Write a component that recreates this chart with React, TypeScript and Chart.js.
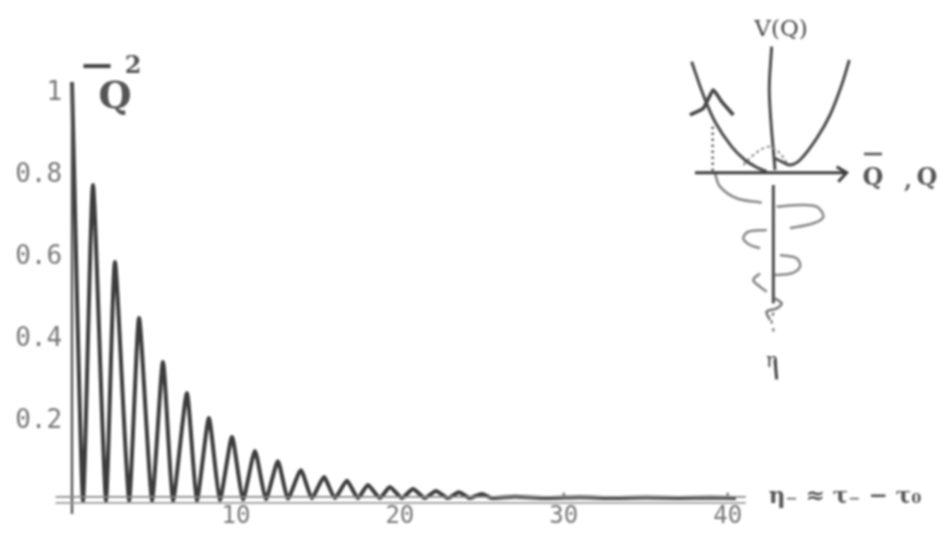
import React, { useEffect, useRef } from "react";
import { Chart, registerables } from "chart.js";

Chart.register(...registerables);

// main curve: maxima and minima of the decaying oscillation
const peakX = [0, 1.28, 2.62, 4.09, 5.55, 7.01, 8.35, 9.76, 11.16, 12.56, 13.96, 15.37, 16.77, 18.05, 19.39, 20.8, 22.2, 23.6, 25];
const peakY = [1.027, 0.776, 0.588, 0.451, 0.344, 0.268, 0.207, 0.161, 0.127, 0.102, 0.08, 0.063, 0.054, 0.044, 0.039, 0.034, 0.029, 0.026, 0.022];
const zeroX = [0.67, 2.07, 3.48, 4.88, 6.16, 7.62, 9.02, 10.43, 11.83, 13.17, 14.63, 16.04, 17.44, 18.78, 20.12, 21.52, 22.93, 24.27, 25.6];
const zeroY = [0.007, 0.007, 0.007, 0.007, 0.007, 0.007, 0.008, 0.009, 0.01, 0.011, 0.012, 0.012, 0.012, 0.012, 0.012, 0.012, 0.012, 0.012, 0.012];
const tailX = [27, 29, 31, 33, 35, 37, 39, 40.5];
const tailY = [0.015, 0.012, 0.014, 0.012, 0.013, 0.012, 0.013, 0.012];

const xTickValues = [10, 20, 30, 40];
const xTickLabels = ["10", "20", "30", "40"];
const yTickValues = [0.2, 0.4, 0.6, 0.8, 1];
const yTickLabels = ["0.2", "0.4", "0.6", "0.8", "1"];

const axisYLine: number[][] = [[0, -0.027], [0, 1.027]];
const baseUpper: number[][] = [[-1, 0.015], [41.1, 0.015]];
const baseLower: number[][] = [[-1, 0], [41.1, 0]];
const overbar: number[][] = [[0.7, 1.066], [2.35, 1.066]];
const tickMarkA: number[][] = [[30, 0.012], [30, 0.025]];
const tickMarkB: number[][] = [[40, 0.012], [40, 0.025]];

// inset sketch, in its own (Q, V) units
const wellLeft = [[-2.45, 3.33], [-2.1, 2.33], [-1.75, 1.53], [-1.25, 0.78], [-0.85, 0.38], [-0.5, 0.16], [-0.2, 0.03]];
const wellRight = [[0.05, 0.43], [0.25, 0.33], [0.5, 0.23], [0.8, 0.38], [1.3, 1.03], [1.7, 1.73], [2.05, 2.63], [2.28, 3.38]];
const hump = [[-0.9, 0.23], [-0.6, 0.53], [-0.15, 0.78], [0.15, 0.63], [0.45, 0.23]];
const vAxisUp = [[-0.05, 3.78], [-0.12, 2.38], [0.05, 0.08]];
const vAxisDown = [[0, -0.37], [0, -3.92]];
const tailDots = [[0, -4.2], [-0.05, -4.5], [0, -4.72], [0, -4.9]];
const qAxis = [[-2.35, 0], [2.15, 0]];
const qArrow = [[1.9, 0.18], [2.2, 0], [1.95, -0.27]];
const dropLine = [[-1.82, 1.38], [-1.82, 0]];
const smallPeak = [[-2.5, 1.73], [-2.1, 1.93], [-1.8, 2.48], [-1.55, 2.13], [-1.2, 1.73]];
const oscA = [[-1.75, -0.02], [-1.6, -0.42], [-1.1, -0.77], [-0.35, -0.9]];
const oscB = [[0.1, -1.02], [0.8, -0.97], [1.3, -1.02], [1.5, -1.32], [1.2, -1.52], [0.5, -1.67]];
const oscC = [[-0.2, -1.72], [-0.75, -1.77], [-0.9, -1.97], [-0.7, -2.17], [-0.4, -2.27]];
const oscD = [[0.2, -2.47], [0.7, -2.57], [0.8, -2.82], [0.55, -3.02], [0.05, -3.07]];
const oscE = [[-0.4, -3.02], [-0.6, -3.22], [-0.4, -3.42], [-0.2, -3.57]];
const oscF = [[0.05, -3.77], [0.25, -3.92], [0.1, -4.07], [-0.2, -4.17], [-0.1, -4.42]];
const etaStem = [[0.05, -5.6], [0.1, -6.2]];
const qOverbar = [[2.72, 0.56], [3.26, 0.56]];

const mono = "'DejaVu Sans Mono'";
const serif = "'DejaVu Serif'";

const mainCurve = () => {
  const pts: { x: number; y: number }[] = [];
  peakX.forEach((x, i) => {
    pts.push({ x, y: peakY[i] });
    pts.push({ x: zeroX[i], y: zeroY[i] });
  });
  tailX.forEach((x, i) => pts.push({ x, y: tailY[i] }));
  return pts;
};

const toPts = (a: number[][]) => a.map(([x, y]) => ({ x, y }));

const main = (data: number[][], color: string, width: number) => ({
  data: toPts(data), borderColor: color, borderWidth: width, pointRadius: 0, tension: 0, clip: false as const,
});
const inset = (data: number[][], color: string, width: number, extra: object = {}) => ({
  data: toPts(data), borderColor: color, borderWidth: width, pointRadius: 0, tension: 0.35,
  xAxisID: "qx", yAxisID: "vy", clip: false as const, ...extra,
});

const noPadding = (s: any) => {
  s.paddingTop = 0;
  s.paddingBottom = 0;
  s.paddingLeft = 0;
  s.paddingRight = 0;
};

const labels = {
  id: "labels",
  afterDraw(chart: Chart) {
    const c = chart.ctx;
    const put = (t: string, x: number, y: number, font: string, color = "#444") => {
      c.save();
      c.font = font;
      c.fillStyle = color;
      c.textAlign = "center";
      c.textBaseline = "middle";
      c.fillText(t, x, y);
      c.restore();
    };
    put("Q", 115, 98, `bold 38px ${serif}`, "#555");
    put("2", 133, 67, `bold 24px ${serif}`, "#555");
    put("V(Q)", 781, 30, `23px ${serif}`);
    put("Q", 873, 179, `bold 24px ${serif}`, "#555");
    put(",", 908, 182, `bold 22px ${serif}`, "#555");
    put("Q", 927, 179, `bold 24px ${serif}`, "#555");
    put("η", 772, 362, `20px ${serif}`);
    put("η₋ ≈ τ₋ − τ₀", 845, 497, `bold 23px ${serif}`, "#555");
  },
};

export default function App() {
  const ref = useRef<HTMLCanvasElement>(null);
  useEffect(() => {
    const chart = new Chart(ref.current as HTMLCanvasElement, {
      type: "line",
      data: {
        datasets: [
          main(baseUpper, "#888", 1.8),
          main(baseLower, "#999", 1.8),
          main(axisYLine, "#555", 2.4),
          main(overbar, "#444", 4),
          main(tickMarkA, "#666", 2),
          main(tickMarkB, "#666", 2),
          { data: mainCurve(), borderColor: "#3c3c3c", borderWidth: 4, pointRadius: 0, tension: 0.18, clip: false as const },
          inset(wellLeft, "#4a4a4a", 3),
          inset(wellRight, "#4a4a4a", 3),
          inset(hump, "#888", 2, { borderDash: [3, 3] }),
          inset(vAxisUp, "#4a4a4a", 3),
          inset(vAxisDown, "#4a4a4a", 3),
          inset(tailDots, "#777", 2.4, { borderDash: [3, 5] }),
          inset(etaStem, "#444", 3, { tension: 0 }),
          inset(qOverbar, "#555", 2.6, { tension: 0 }),
          inset(qAxis, "#3c3c3c", 3, { tension: 0 }),
          inset(qArrow, "#3c3c3c", 3, { tension: 0 }),
          inset(dropLine, "#444", 2.6, { borderDash: [2, 4], tension: 0 }),
          inset(smallPeak, "#444", 3.6, { tension: 0.15 }),
          inset(oscA, "#888", 2.6),
          inset(oscB, "#888", 2.6),
          inset(oscC, "#888", 2.6),
          inset(oscD, "#888", 2.6),
          inset(oscE, "#888", 2.6),
          inset(oscF, "#777", 2.6),
        ] as any,
      },
      options: {
        animation: false,
        responsive: false,
        events: [],
        layout: { padding: { left: 55.6, right: 79, top: 30, bottom: 27 } },
        plugins: { legend: { display: false }, tooltip: { enabled: false } },
        scales: {
          x: {
            type: "linear",
            min: -1,
            max: 48.5,
            position: { y: 0.02 } as any,
            border: { display: false },
            grid: { display: false },
            afterFit: noPadding,
            afterBuildTicks: (s: any) => { s.ticks = xTickValues.map((value) => ({ value })); },
            ticks: {
              autoSkip: false,
              maxRotation: 0,
              padding: 0,
              color: "#777",
              font: { family: mono, size: 24 },
              callback: (v: any) => xTickLabels[xTickValues.indexOf(v)] ?? "",
            },
          },
          y: {
            type: "linear",
            min: -0.027,
            max: 1.154,
            position: { x: -0.6 } as any,
            border: { display: false },
            grid: { display: false },
            afterFit: noPadding,
            afterBuildTicks: (s: any) => { s.ticks = yTickValues.map((value) => ({ value })); },
            ticks: {
              autoSkip: false,
              padding: 0,
              color: "#777",
              font: { family: mono, size: 26 },
              callback: (v: any) => yTickLabels[yTickValues.indexOf(v)] ?? "",
            },
          },
          qx: { type: "linear", display: false, min: -21.53, max: 2.81 },
          vy: { type: "linear", display: false, min: -10.24, max: 4.28 },
        },
      },
      plugins: [labels],
    } as any);
    return () => chart.destroy();
  }, []);
  return (
    <canvas
      ref={ref}
      width={946}
      height={541}
      style={{ position: "fixed", left: 0, top: 0, width: 946, height: 541, filter: "blur(1px)", background: "#fff" }}
    />
  );
}
